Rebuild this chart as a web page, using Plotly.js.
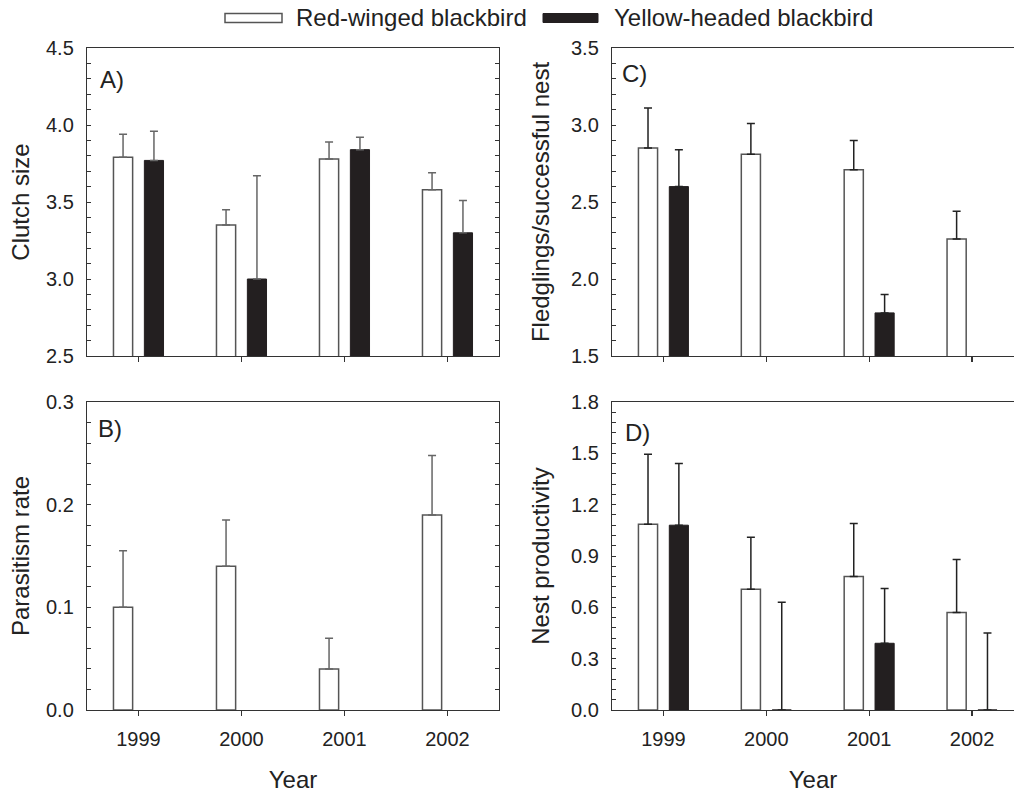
<!DOCTYPE html>
<html>
<head>
<meta charset="utf-8">
<script src="https://cdn.plot.ly/plotly-3.0.1.min.js"></script>
<style>html,body{margin:0;padding:0;background:#fff;overflow:hidden}</style>
</head>
<body>
<div id="chart" style="width:1014px;height:793px"></div>
<script>
// ---- data ----
const years = ['1999', '2000', '2001', '2002'];
const seriesNames = ['Red-winged blackbird', 'Yellow-headed blackbird'];

// A) Clutch size
const clutchRW = [3.79, 3.35, 3.78, 3.58];
const clutchRWerr = [0.15, 0.10, 0.11, 0.11];
const clutchYH = [3.77, 3.00, 3.84, 3.30];
const clutchYHerr = [0.19, 0.67, 0.08, 0.21];

// B) Parasitism rate
const parasRW = [0.10, 0.14, 0.04, 0.19];
const parasRWerr = [0.055, 0.045, 0.03, 0.058];
const parasYH = [null, null, null, null];
const parasYHerr = [null, null, null, null];

// C) Fledglings / successful nest
const fledgRW = [2.85, 2.81, 2.71, 2.26];
const fledgRWerr = [0.26, 0.20, 0.19, 0.18];
const fledgYH = [2.60, null, 1.78, null];
const fledgYHerr = [0.24, null, 0.12, null];

// D) Nest productivity
const prodRW = [1.085, 0.705, 0.78, 0.57];
const prodRWerr = [0.41, 0.305, 0.31, 0.31];
const prodYH = [1.08, 0.0, 0.39, 0.0];
const prodYHerr = [0.36, 0.63, 0.32, 0.45];

const panelLabels = ['A)', 'B)', 'C)', 'D)'];
const yTitles = ['Clutch size', 'Parasitism rate', 'Fledglings/successful nest', 'Nest productivity'];
const xTitle = 'Year';

// ---- layout helpers ----
const W = 1014, H = 793;
const px = x => x / W;
const py = y => 1 - y / H;
const FONT = '"Liberation Sans", Arial, Helvetica, sans-serif';
const AX = '#333333';
const WHITE_LINE = '#555555';
const BLACK_FILL = '#231f20';

function barPair(xa, ya, rw, rwErr, yh, yhErr, errColor) {
  const common = {type: 'bar', x: years, xaxis: xa, yaxis: ya, showlegend: false};
  return [
    Object.assign({}, common, {
      name: seriesNames[0], y: rw,
      marker: {color: '#ffffff', line: {color: WHITE_LINE, width: 1.5}},
      error_y: {type: 'data', symmetric: false, array: rwErr, arrayminus: rwErr.map(() => 0),
                color: errColor, thickness: 1.5, width: 4}
    }),
    Object.assign({}, common, {
      name: seriesNames[1], y: yh,
      marker: {color: BLACK_FILL, line: {color: BLACK_FILL, width: 1}},
      error_y: {type: 'data', symmetric: false, array: yhErr, arrayminus: yhErr.map(() => 0),
                color: errColor, thickness: 1.5, width: 4}
    })
  ];
}

const data = [].concat(
  barPair('x', 'y', clutchRW, clutchRWerr, clutchYH, clutchYHerr, '#666666'),
  barPair('x2', 'y2', parasRW, parasRWerr, parasYH, parasYHerr, '#666666'),
  barPair('x3', 'y3', fledgRW, fledgRWerr, fledgYH, fledgYHerr, '#222222'),
  barPair('x4', 'y4', prodRW, prodRWerr, prodYH, prodYHerr, '#222222')
);

const leftDom = [px(87), px(499)];
const rightDom = [px(612), 1];
const topDom = [py(356), py(48)];
const botDom = [py(710), py(402)];

function xAxis(domain, anchor, range, labels, title) {
  return {
    domain: domain, anchor: anchor, type: 'category', categoryorder: 'array', categoryarray: years,
    range: range, showline: true, linecolor: AX, linewidth: 1.2, mirror: true,
    ticks: 'outside', ticklen: 5, tickwidth: 1.2, tickcolor: AX,
    showticklabels: labels, showgrid: false, zeroline: false,
    tickfont: {family: FONT, size: 20, color: '#222'},
    ticklabelstandoff: 6,
    title: title ? {text: title, font: {family: FONT, size: 24, color: '#222'}, standoff: 23} : {text: ''}
  };
}
function yAxis(domain, anchor, range, dtick, minorDtick, fmt, title, mirror, standoff) {
  return {
    domain: domain, anchor: anchor, range: range, autorange: false,
    showline: true, linecolor: AX, linewidth: 1.2, mirror: mirror,
    ticks: 'inside', ticklen: 4, tickwidth: 1, tickcolor: AX,
    dtick: dtick, tick0: range[0], tickformat: fmt,
    minor: {ticks: 'inside', dtick: minorDtick, ticklen: 4, tickwidth: 1, tickcolor: AX, showgrid: false},
    showgrid: false, zeroline: false,
    tickfont: {family: FONT, size: 20, color: '#222'},
    ticklabelstandoff: 8,
    title: {text: title, font: {family: FONT, size: 24, color: '#222'}, standoff: standoff}
  };
}

const rightRange = [-0.5, 3 + (1014 - 972) / 103];

const layout = {
  width: W, height: H,
  margin: {l: 0, r: 0, t: 0, b: 0},
  paper_bgcolor: '#fff', plot_bgcolor: '#fff',
  font: {family: FONT, color: '#222'},
  barmode: 'group', bargap: 0.4, bargroupgap: 0.38,
  xaxis: xAxis(leftDom, 'y', [-0.5, 3.5], false, null),
  yaxis: yAxis(topDom, 'x', [2.5, 4.5], 0.5, 0.1, '.1f', yTitles[0], 'ticks', 9),
  xaxis2: xAxis(leftDom, 'y2', [-0.5, 3.5], true, xTitle),
  yaxis2: yAxis(botDom, 'x2', [0, 0.3], 0.1, 0.02, '.1f', yTitles[1], 'ticks', 9),
  xaxis3: xAxis(rightDom, 'y3', rightRange, false, null),
  yaxis3: yAxis(topDom, 'x3', [1.5, 3.5], 0.5, 0.1, '.1f', yTitles[2], false, 14),
  xaxis4: xAxis(rightDom, 'y4', rightRange, true, xTitle),
  yaxis4: yAxis(botDom, 'x4', [0, 1.8], 0.3, 0.06, '.1f', yTitles[3], false, 14),
  shapes: [
    {type: 'rect', xref: 'paper', yref: 'paper', x0: px(225), x1: px(282), y0: py(22.5), y1: py(13.5),
     fillcolor: '#fff', line: {color: WHITE_LINE, width: 1.5}},
    {type: 'rect', xref: 'paper', yref: 'paper', x0: px(543), x1: px(598), y0: py(22.5), y1: py(13.5),
     fillcolor: BLACK_FILL, line: {color: BLACK_FILL, width: 1}}
  ],
  annotations: [
    {xref: 'paper', yref: 'paper', x: px(294), y: py(18), xanchor: 'left', yanchor: 'middle', showarrow: false,
     text: seriesNames[0], font: {family: FONT, size: 24, color: '#222'}},
    {xref: 'paper', yref: 'paper', x: px(612), y: py(18), xanchor: 'left', yanchor: 'middle', showarrow: false,
     text: seriesNames[1], font: {family: FONT, size: 24, color: '#222'}},
    {xref: 'paper', yref: 'paper', x: px(98), y: py(79), xanchor: 'left', yanchor: 'middle', showarrow: false,
     text: panelLabels[0], font: {family: FONT, size: 24, color: '#222'}},
    {xref: 'paper', yref: 'paper', x: px(96), y: py(428), xanchor: 'left', yanchor: 'middle', showarrow: false,
     text: panelLabels[1], font: {family: FONT, size: 24, color: '#222'}},
    {xref: 'paper', yref: 'paper', x: px(620), y: py(74), xanchor: 'left', yanchor: 'middle', showarrow: false,
     text: panelLabels[2], font: {family: FONT, size: 24, color: '#222'}},
    {xref: 'paper', yref: 'paper', x: px(623), y: py(432), xanchor: 'left', yanchor: 'middle', showarrow: false,
     text: panelLabels[3], font: {family: FONT, size: 24, color: '#222'}}
  ]
};

Plotly.newPlot('chart', data, layout, {staticPlot: true, displayModeBar: false});
</script>
</body>
</html>
